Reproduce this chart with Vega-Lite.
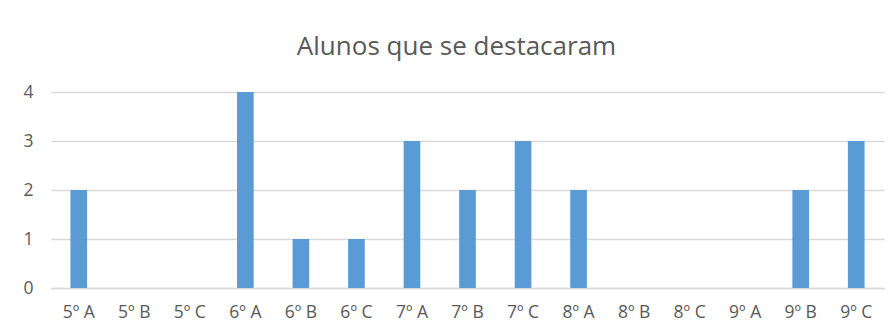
{
  "$schema": "https://vega.github.io/schema/vega-lite/v6.json",
  "width": 833,
  "height": 196,
  "autosize": {"type": "none"},
  "padding": {"left": 51, "top": 92, "right": 11, "bottom": 43},
  "background": "white",
  "title": {
    "text": "Alunos que se destacaram",
    "font": "Open Sans",
    "fontSize": 26,
    "fontWeight": "normal",
    "color": "#595959",
    "anchor": "middle",
    "offset": 23,
    "dx": -11
  },
  "data": {
    "values": [
      {"turma": "5º A", "alunos": 2},
      {"turma": "5º B", "alunos": 0},
      {"turma": "5º C", "alunos": 0},
      {"turma": "6º A", "alunos": 4},
      {"turma": "6º B", "alunos": 1},
      {"turma": "6º C", "alunos": 1},
      {"turma": "7º A", "alunos": 3},
      {"turma": "7º B", "alunos": 2},
      {"turma": "7º C", "alunos": 3},
      {"turma": "8º A", "alunos": 2},
      {"turma": "8º B", "alunos": 0},
      {"turma": "8º C", "alunos": 0},
      {"turma": "9º A", "alunos": 0},
      {"turma": "9º B", "alunos": 2},
      {"turma": "9º C", "alunos": 3}
    ]
  },
  "mark": {"type": "bar", "color": "#5b9bd5"},
  "encoding": {
    "x": {
      "field": "turma",
      "type": "nominal",
      "sort": null,
      "title": null,
      "scale": {"paddingInner": 0.7, "paddingOuter": 0.35},
      "axis": {
        "labelAngle": 0,
        "labelFont": "Open Sans",
        "labelFontSize": 17.5,
        "labelColor": "#595959",
        "labelPadding": 15,
        "ticks": false,
        "domainColor": "#d9d9d9",
        "domainWidth": 1.5,
        "grid": false
      }
    },
    "y": {
      "field": "alunos",
      "type": "quantitative",
      "title": null,
      "scale": {"domain": [0, 4], "nice": false},
      "axis": {
        "values": [0, 1, 2, 3, 4],
        "format": "d",
        "labelFont": "Open Sans",
        "labelFontSize": 17.5,
        "labelColor": "#595959",
        "labelPadding": 18,
        "ticks": false,
        "domain": false,
        "gridColor": "#d9d9d9",
        "gridWidth": 1.5
      }
    }
  },
  "config": {"view": {"stroke": null}}
}
